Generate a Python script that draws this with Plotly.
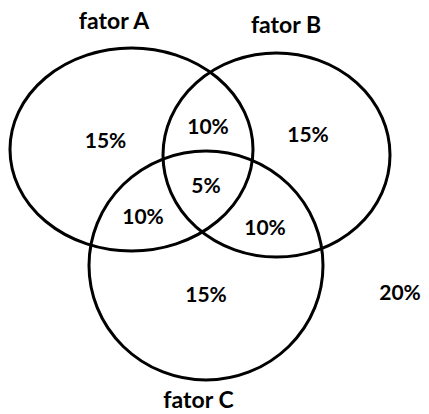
import plotly.graph_objects as go

# Sets (circles) of the Venn diagram
set_names = ["fator A", "fator B", "fator C"]
# Region values
region_labels = ["15%", "15%", "15%", "10%", "10%", "10%", "5%", "20%"]
region_names = ["A only", "B only", "C only", "A∩B", "A∩C", "B∩C", "A∩B∩C", "none"]

# geometry (pixel-like coordinates, y downward)
circle_cx = [131.5, 276.5, 206]
circle_cy = [149.5, 155, 265.5]
circle_rx = [121.5, 113.5, 117]
circle_ry = [101.5, 102, 114.5]
set_label_x = [114, 286, 198.5]
set_label_y = [23, 27, 402]
region_x = [105.5, 308, 206, 208, 143, 265, 206, 400]
region_y = [143, 137, 297, 129, 219, 230, 188, 295]

W, H = 429, 414

fig = go.Figure()

shapes = []
for cx, cy, rx, ry in zip(circle_cx, circle_cy, circle_rx, circle_ry):
    shapes.append(dict(type="circle", xref="x", yref="y",
                       x0=cx - rx, x1=cx + rx, y0=cy - ry, y1=cy + ry,
                       line=dict(color="black", width=3), fillcolor="rgba(0,0,0,0)"))

fig.add_trace(go.Scatter(x=set_label_x, y=set_label_y, mode="text", text=set_names,
                         textfont=dict(family="Lato", size=23, color="black", weight="bold"),
                         cliponaxis=False, hoverinfo="skip", showlegend=False))
fig.add_trace(go.Scatter(x=region_x, y=region_y, mode="text", text=region_labels,
                         textfont=dict(family="Lato", size=21, color="black", weight="bold"),
                         cliponaxis=False, hovertext=region_names, showlegend=False))

fig.update_layout(
    width=W, height=H,
    margin=dict(l=0, r=0, t=0, b=0),
    paper_bgcolor="white", plot_bgcolor="white",
    shapes=shapes,
    xaxis=dict(range=[0, W], visible=False, fixedrange=True),
    yaxis=dict(range=[H, 0], visible=False, fixedrange=True),
)

fig.write_html("out.html",
               config={"displayModeBar": False},
               post_script="document.body.style.margin='0';document.body.style.overflow='hidden';")
